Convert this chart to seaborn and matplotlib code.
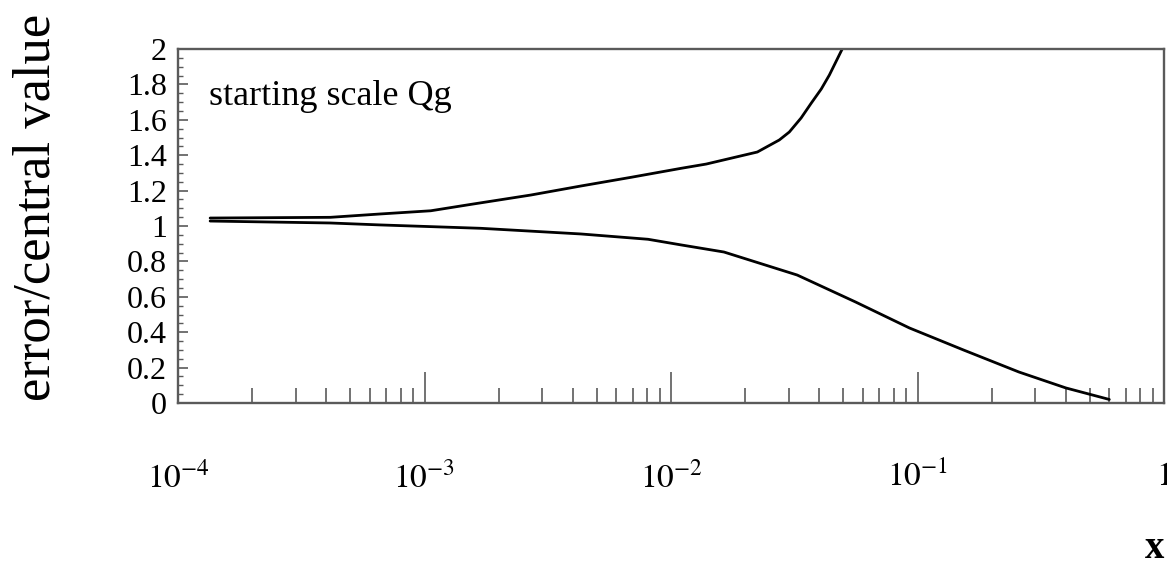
import numpy as np
import pandas as pd
import matplotlib
matplotlib.use("Agg")
import matplotlib.pyplot as plt
import matplotlib.ticker as mticker
import seaborn as sns

# ---- data ----
x_upper = [1.35e-4, 4.15e-4, 6.62e-4, 1.06e-3, 1.54e-3, 2.70e-3, 4.31e-3, 6.88e-3,
           1.10e-2, 1.39e-2, 2.24e-2, 2.75e-2, 3.02e-2, 3.37e-2, 3.71e-2, 4.07e-2,
           4.39e-2, 4.95e-2]
y_upper = [1.045, 1.049, 1.068, 1.086, 1.122, 1.175, 1.226, 1.275,
           1.326, 1.350, 1.418, 1.486, 1.531, 1.610, 1.695, 1.774,
           1.853, 2.0]

x_lower = [1.35e-4, 4.15e-4, 6.62e-4, 1.69e-3, 4.31e-3, 8.07e-3, 1.10e-2, 1.64e-2,
           3.25e-2, 5.60e-2, 9.27e-2, 0.154, 0.258, 0.400, 0.600]
y_lower = [1.028, 1.017, 1.006, 0.987, 0.955, 0.925, 0.893, 0.853,
           0.723, 0.571, 0.424, 0.299, 0.175, 0.085, 0.02]

y_ticks = [0, 0.2, 0.4, 0.6, 0.8, 1.0, 1.2, 1.4, 1.6, 1.8, 2.0]
x_ticks = [1e-4, 1e-3, 1e-2, 1e-1, 1]
x_ticklabels = [r"$10^{-4}$", r"$10^{-3}$", r"$10^{-2}$", r"$10^{-1}$", r"$1$"]

annotation = "starting scale Qg"
y_label = "error/central value"
x_label = "x"

df = pd.concat([
    pd.DataFrame({"x": x_upper, "y": y_upper, "band": "upper"}),
    pd.DataFrame({"x": x_lower, "y": y_lower, "band": "lower"}),
], ignore_index=True)

sns.set_style("white")
plt.rcParams["font.family"] = ["Liberation Serif", "DejaVu Serif"]
plt.rcParams["mathtext.fontset"] = "stix"
plt.rcParams["text.color"] = "black"
plt.rcParams["axes.labelcolor"] = "black"

W, H = 1167, 565
fig = plt.figure(figsize=(W / 100, H / 100), dpi=100)
ax = fig.add_axes([178 / W, 1 - 403 / H, (1164 - 178) / W, (403 - 49) / H])

sns.lineplot(data=df, x="x", y="y", units="band", estimator=None, sort=False,
             color="black", linewidth=2.0, ax=ax, legend=False)

ax.set_xscale("log")
ax.set_xlim(1e-4, 1)
ax.set_ylim(0, 2)

spine_c = "#5a5a5a"
for s in ax.spines.values():
    s.set_color(spine_c)
    s.set_linewidth(1.7)
    s.set_visible(True)

ax.set_xticks(x_ticks)
ax.set_xticklabels(x_ticklabels)
ax.xaxis.set_minor_locator(mticker.LogLocator(base=10, subs=np.arange(2, 10)))
ax.xaxis.set_minor_formatter(mticker.NullFormatter())
ax.set_yticks(y_ticks)
ax.set_yticklabels(["%g" % v for v in y_ticks])
ax.yaxis.set_minor_locator(mticker.MultipleLocator(0.05))

ax.tick_params(axis="x", which="major", direction="in", length=22, width=1.2,
               color=spine_c, labelcolor="black", labelsize=24, pad=42,
               bottom=True, top=False)
ax.tick_params(axis="x", which="minor", direction="in", length=11, width=1.2,
               color=spine_c, bottom=True, top=False)
ax.tick_params(axis="y", which="major", direction="in", length=7.5, width=1.2,
               color=spine_c, labelcolor="black", labelsize=23, pad=8,
               left=True, right=False)
ax.tick_params(axis="y", which="minor", direction="in", length=3.8, width=1.0,
               color=spine_c, left=True, right=False)

ax.grid(False)

ax.text(31 / 986, (403 - 105) / 354, annotation, transform=ax.transAxes,
        fontsize=26, ha="left", va="baseline", color="black")

ax.set_ylabel(y_label, fontsize=38, va="center", ha="center", color="black")
ax.yaxis.set_label_coords(37 / W, 1 - 207 / H, transform=fig.transFigure)
ax.set_xlabel(x_label, fontsize=28, fontweight="bold", va="center", ha="center",
              color="black")
ax.xaxis.set_label_coords(1155 / W, 1 - 548 / H, transform=fig.transFigure)

fig.savefig("out.png", dpi=100)
